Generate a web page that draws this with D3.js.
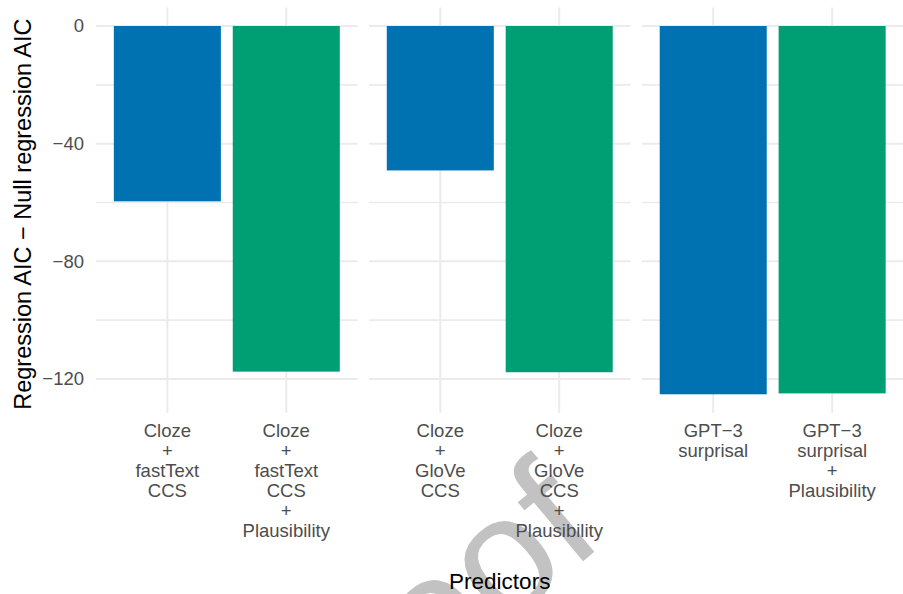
<!DOCTYPE html>
<html>
<head>
<meta charset="utf-8">
<script src="https://cdn.jsdelivr.net/npm/d3@7"></script>
<style>
  body { margin: 0; background: #fff; }
  svg { display: block; }
  text { font-family: "Liberation Sans", Arial, sans-serif; }
</style>
</head>
<body>
<svg id="chart" width="903" height="594"></svg>
<script>
// ---- data ----
const panels = ["fastText", "GloVe", "GPT-3"];
const categories = [
  "Cloze\n+\nfastText\nCCS",
  "Cloze\n+\nfastText\nCCS\n+\nPlausibility",
  "Cloze\n+\nGloVe\nCCS",
  "Cloze\n+\nGloVe\nCCS\n+\nPlausibility",
  "GPT\u22123\nsurprisal",
  "GPT\u22123\nsurprisal\n+\nPlausibility"
];
const panelOf = [0, 0, 1, 1, 2, 2];
const groups = ["base", "plaus", "base", "plaus", "base", "plaus"];
const values = [-59.6, -117.5, -49.1, -117.7, -125.2, -124.9];
const yTicks = [0, -40, -80, -120];
const yMinorTicks = [-20, -60, -100];
const colors = { base: "#0072B2", plaus: "#009E73" };

// ---- layout ----
const svg = d3.select("#chart");
const plotLeft = 96, plotRight = 903.5, plotTop = 7.6, plotBottom = 412.7;
const gap = 11.3;
const panelW = (plotRight - plotLeft - gap * (panels.length - 1)) / panels.length;

// watermark (behind)
svg.append("text")
  .attr("transform", "translate(607,541) rotate(-40)")
  .attr("text-anchor", "end")
  .attr("font-size", 165)
  .attr("fill", "#c2c2c2")
  .text("Proof");

const yMin = d3.min(values), yMax = 0;
const span = yMax - yMin;
const y = d3.scaleLinear()
  .domain([yMin - 0.05 * span, yMax + 0.05 * span])
  .range([plotBottom, plotTop]);

const data = categories.map((c, i) => ({ cat: c, panel: panelOf[i], group: groups[i], value: values[i] }));

panels.forEach((p, pi) => {
  const x0 = plotLeft + pi * (panelW + gap);
  const g = svg.append("g").attr("transform", `translate(${x0},0)`);
  const pd = data.filter(d => d.panel === pi);
  const x = d3.scaleBand()
    .domain(pd.map(d => d.cat))
    .range([0, panelW])
    .paddingInner(0.1)
    .paddingOuter(0.15);

  g.selectAll(".minor").data(yMinorTicks).enter().append("line")
    .attr("x1", 0).attr("x2", panelW)
    .attr("y1", d => y(d)).attr("y2", d => y(d))
    .attr("stroke", "#ebebeb").attr("stroke-width", 1.6);
  g.selectAll(".major").data(yTicks).enter().append("line")
    .attr("x1", 0).attr("x2", panelW)
    .attr("y1", d => y(d)).attr("y2", d => y(d))
    .attr("stroke", "#ebebeb").attr("stroke-width", 2);
  g.selectAll(".vgrid").data(pd).enter().append("line")
    .attr("x1", d => x(d.cat) + x.bandwidth() / 2)
    .attr("x2", d => x(d.cat) + x.bandwidth() / 2)
    .attr("y1", plotTop).attr("y2", plotBottom)
    .attr("stroke", "#ebebeb").attr("stroke-width", 2);

  g.selectAll(".bar").data(pd).enter().append("rect")
    .attr("x", d => x(d.cat))
    .attr("width", x.bandwidth())
    .attr("y", d => y(Math.max(0, d.value)))
    .attr("height", d => Math.abs(y(d.value) - y(0)))
    .attr("fill", d => colors[d.group]);

  const lab = g.selectAll(".xlab").data(pd).enter().append("text")
    .attr("text-anchor", "middle")
    .attr("fill", "#4d4d4d")
    .attr("font-size", 18.5);
  lab.each(function(d) {
    const t = d3.select(this);
    d.cat.split("\n").forEach((line, li) => {
      t.append("tspan")
        .attr("x", x(d.cat) + x.bandwidth() / 2)
        .attr("y", 437 + li * 20)
        .text(line);
    });
  });
});

svg.selectAll(".ylab").data(yTicks).enter().append("text")
  .attr("x", 84)
  .attr("y", d => y(d))
  .attr("dy", "0.35em")
  .attr("text-anchor", "end")
  .attr("fill", "#4d4d4d")
  .attr("font-size", 18.5)
  .text(d => d3.format("")(d));

svg.append("text")
  .attr("transform", `translate(31,${(plotTop + plotBottom) / 2 + 4}) rotate(-90)`)
  .attr("text-anchor", "middle")
  .attr("font-size", 23.5)
  .attr("fill", "#000")
  .text("Regression AIC \u2212 Null regression AIC");

svg.append("text")
  .attr("x", (plotLeft + plotRight) / 2)
  .attr("y", 588.5)
  .attr("text-anchor", "middle")
  .attr("font-size", 22.5)
  .attr("fill", "#000")
  .text("Predictors");
</script>
</body>
</html>
